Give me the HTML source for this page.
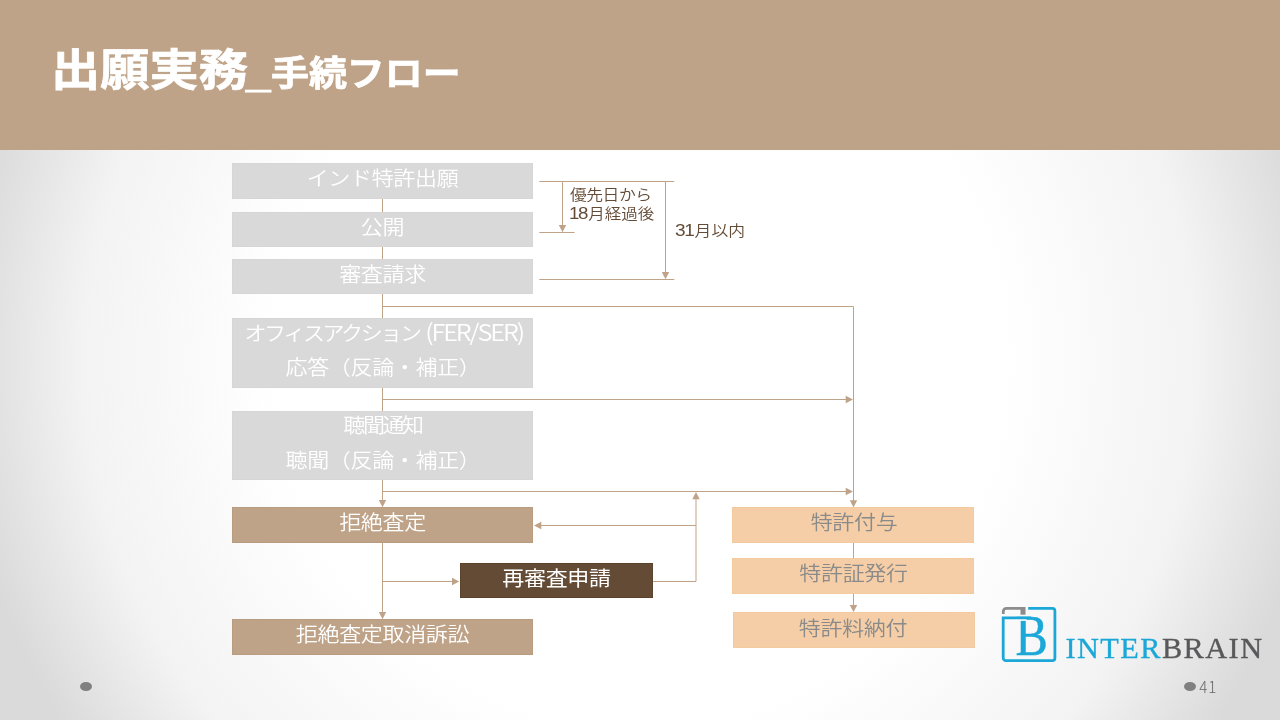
<!DOCTYPE html>
<html lang="ja">
<head>
<meta charset="utf-8">
<title>出願実務_手続フロー</title>
<style>
html,body{margin:0;padding:0;}
body{width:1280px;height:720px;overflow:hidden;position:relative;
  font-family:"Liberation Sans","Noto Sans CJK JP",sans-serif;
  background:#fff;}
#bg{position:absolute;left:0;top:0;width:1280px;height:720px;
  background:radial-gradient(circle 734px at 640px 360px, #ffffff 0%, #ffffff 49.8%, #f3f3f3 76%, #dadada 92.9%, #dadada 100%);}
#hdr{position:absolute;left:0;top:0;width:1280px;height:150px;background:#bfa388;}
#title span{position:absolute;color:#fff;font-weight:700;-webkit-text-stroke:0.7px #fff;white-space:nowrap;transform-origin:0 0;display:block;will-change:transform;}
#title .b{left:51.3px;top:37.5px;font-size:44.8px;line-height:64px;transform:scaleX(1.10);}
#title .u{left:246px;top:39.5px;font-size:44px;line-height:64px;transform:scaleX(1.0);font-weight:bold;-webkit-text-stroke:1.2px #fff;font-family:"Liberation Sans",sans-serif;}
#title .s{left:270.7px;top:46px;font-size:34.8px;line-height:56px;transform:scaleX(1.09);}
.bx{position:absolute;font-weight:400;color:#fff;text-align:center;font-size:21.33px;white-space:nowrap;box-sizing:border-box;}
.g{font-weight:350;background:#d9d9d9;box-shadow:inset 0 0 0 1px #d6d6d6;}
.t{font-weight:350;background:#bfa388;box-shadow:inset 0 0 0 1px #b99c80;}
.d{background:#644b35;box-shadow:inset 0 0 0 1px #5b422b;}
.p{font-weight:350;background:#f5cea7;box-shadow:inset 0 0 0 1px #f3c9a0;color:#8a8a8a;}
.bx,.note{will-change:transform;}
.bx div{position:absolute;left:0;right:0;height:30px;line-height:30px;font-size:20px;letter-spacing:-0.3px;transform:scaleX(1.10);transform-origin:50% 50%;}
.note .n{font-size:17px;letter-spacing:-1.2px;margin-right:1px;}
.note{position:absolute;font-weight:350;color:#644b35;font-size:15px;line-height:19px;white-space:nowrap;transform:scaleX(1.12);transform-origin:0 0;}
svg{position:absolute;left:0;top:0;}
</style>
</head>
<body>
<div id="bg"></div>
<div id="hdr"></div>
<div id="title"><span class="b">出願実務</span><span class="u">_</span><span class="s">手続フロー</span></div>

<svg width="1280" height="720" viewBox="0 0 1280 720">
 <g stroke="#bfa388" stroke-width="1" fill="none">
  <path d="M382.5 199V212M382.5 247V259M382.5 294V318M382.5 388V411M382.5 480V501M382.5 543V613"/>
  <path d="M539.3 181.500H674.3M539.3 232.500H574.6M539.3 279.500H674.3M562.5 181V226M665.5 181V273"/>
  <path d="M382 306.500H853.500V501M382 399.500H846M382 491.500H846"/>
  <path d="M696 498V581.500H653M696 525.500H541M382 581.500H453"/>
  <path d="M853.500 543V558M853.500 594V606"/>
 </g>
 <g fill="#bfa388" stroke="none">
  <path d="M558.80 225.00h7.4L562.5 232.3z"/>
  <path d="M661.80 272.00h7.4L665.5 279.3z"/>
  <path d="M378.80 499.90h7.4L382.5 507.2z"/>
  <path d="M378.80 611.90h7.4L382.5 619.2z"/>
  <path d="M849.80 500.20h7.4L853.5 507.5z"/>
  <path d="M849.80 605.00h7.4L853.5 612.3z"/>
  <path d="M845.70 395.80v7.4L853 399.5z"/>
  <path d="M845.70 487.80v7.4L853 491.5z"/>
  <path d="M692.30 499.30h7.4L696 492z"/>
  <path d="M541.30 521.80v7.4L534 525.5z"/>
  <path d="M452.00 577.80v7.4L459.3 581.5z"/>
 </g>
</svg>

<div class="bx g" style="left:232px;top:163px;width:301px;height:36px;"><div style="top:1.3px;">インド特許出願</div></div>
<div class="bx g" style="left:232px;top:212px;width:301px;height:35px;"><div style="top:1.3px;">公開</div></div>
<div class="bx g" style="left:232px;top:259px;width:301px;height:35px;"><div style="top:1px;">審査請求</div></div>
<div class="bx g" style="left:232px;top:318px;width:301px;height:70px;"><div style="top:0.8px;left:1.5px;"><span style="letter-spacing:-2.15px;">オフィスアクション</span><span style="letter-spacing:-1.9px;font-size:23px;margin-left:5px;font-family:'Noto Sans CJK JP','Liberation Sans',sans-serif;line-height:20px;">(FER/SER)</span></div><div style="top:35px;left:1px;">応答（反論・補正）</div></div>
<div class="bx g" style="left:232px;top:411px;width:301px;height:69px;"><div style="top:0px;letter-spacing:-2.2px;">聴聞通知</div><div style="top:34.500px;left:1px;">聴聞（反論・補正）</div></div>
<div class="bx t" style="left:232px;top:507px;width:301px;height:36px;"><div style="top:1px;">拒絶査定</div></div>
<div class="bx d" style="left:460px;top:563px;width:193px;height:35px;"><div style="top:1.3px;">再審査申請</div></div>
<div class="bx t" style="left:232px;top:619px;width:301px;height:36px;"><div style="top:1px;">拒絶査定取消訴訟</div></div>

<div class="bx p" style="left:732px;top:507px;width:242px;height:36px;"><div style="top:1.3px;left:2px;">特許付与</div></div>
<div class="bx p" style="left:732px;top:558px;width:242px;height:36px;"><div style="top:1.3px;left:1px;">特許証発行</div></div>
<div class="bx p" style="left:733px;top:612px;width:242px;height:36px;"><div style="top:1.5px;left:-2px;">特許料納付</div></div>

<div class="note" style="left:570.4px;top:185px;letter-spacing:-0.45px;">優先日から</div>
<div class="note" style="left:569.2px;top:204.3px;transform:scaleX(1.10);"><span class="n">18</span>月経過後</div>
<div class="note" style="left:674.5px;top:220.5px;"><span class="n">31</span>月以内</div>

<!-- logo -->
<svg width="1280" height="720" viewBox="0 0 1280 720">
 <text x="1015.5" y="654.6" font-family="Liberation Serif, serif" font-size="57" fill="#1ba8d8" stroke="#1ba8d8" stroke-width="0.5" transform="translate(1015.5 0) scale(0.85 1) translate(-1015.5 0)">B</text>
 <rect x="1004.6" y="619" width="22" height="1.9" fill="#fafafa"/>
 <path d="M1028.2 608.3H1052.300a2.600 2.600 0 0 1 2.600 2.600V658a2.600 2.600 0 0 1 -2.600 2.600H1005.800a2.600 2.600 0 0 1 -2.600 -2.600V617.900H1031" fill="none" stroke="#1ba8d8" stroke-width="2.8"/>
 <path d="M1003.300 613.900V611.300a3 3 0 0 1 3 -3H1021" fill="none" stroke="#8c8c8c" stroke-width="2.7"/>
 <rect x="1020.500" y="607" width="5" height="7.700" fill="#8c8c8c"/>
 <text x="1065.500" y="657.600" font-family="Liberation Serif, serif" font-size="30.300" fill="#1ba8d8" stroke="#1ba8d8" stroke-width="0.35" letter-spacing="1.45">INTER<tspan fill="#59595b" stroke="#59595b">BRAIN</tspan></text>
 <ellipse cx="86" cy="686.500" rx="6" ry="4.500" fill="#808080"/>
 <ellipse cx="1190" cy="686.500" rx="6" ry="4.500" fill="#808080"/>
 <text x="1199.300" y="692.600" font-family="Noto Sans CJK JP, Liberation Sans, sans-serif" font-weight="300" font-size="16" fill="#666" transform="translate(1199.300 0) scale(0.95 1) translate(-1199.300 0)" letter-spacing="0.8">41</text>
</svg>
</body>
</html>
